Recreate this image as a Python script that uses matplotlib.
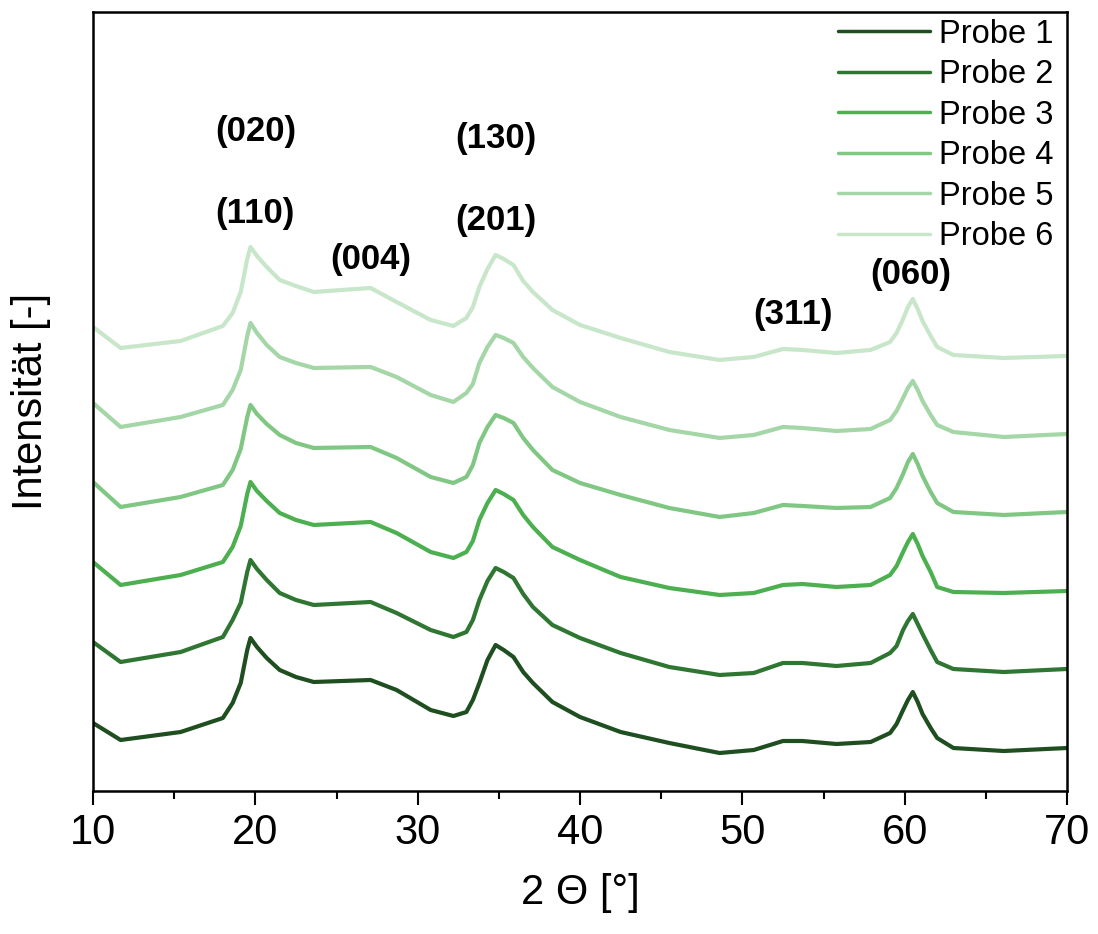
import numpy as np
import matplotlib
matplotlib.use("Agg")
import matplotlib.pyplot as plt

plt.rcParams['font.family'] = ['Liberation Sans', 'DejaVu Sans']

# 2 theta sampling points
two_theta = [10.0, 11.7, 15.4, 18.0, 18.6, 19.1, 19.5, 19.7, 20.1, 20.7, 21.5, 22.5,
             23.6, 27.1, 28.7, 30.8, 32.2, 33.0, 33.4, 33.8, 34.3, 34.8, 35.3, 35.9,
             36.5, 37.1, 38.3, 40.0, 42.5, 45.5, 48.6, 50.7, 52.5, 53.7, 55.8, 57.9,
             59.1, 59.5, 59.9, 60.2, 60.5, 60.8, 61.1, 61.6, 62.0, 63.0, 66.1, 70.0]

# intensities (arbitrary units, curves already stacked)
probe1 = [68, 51, 59, 73, 88, 108, 141, 153, 144, 133, 121, 114,
          109, 111, 101, 81, 75, 79, 91, 108, 131, 146, 141, 134,
          119, 108, 89, 74, 59, 48, 38, 41, 50, 50, 47, 49,
          58, 67, 81, 91, 99, 89, 77, 63, 53, 43, 40, 43]
probe2 = [149, 129, 139, 154, 171, 188, 219, 231, 222, 211, 198, 191,
          186, 189, 178, 161, 154, 159, 171, 191, 210, 223, 219, 213,
          197, 184, 166, 153, 138, 124, 116, 118, 128, 128, 125, 128,
          138, 145, 161, 170, 177, 167, 157, 141, 129, 122, 119, 122]
probe3 = [229, 206, 216, 229, 244, 265, 297, 309, 300, 290, 278, 271,
          266, 269, 258, 239, 233, 239, 250, 271, 288, 301, 297, 291,
          276, 264, 244, 231, 214, 203, 196, 198, 206, 207, 204, 206,
          216, 225, 239, 249, 257, 247, 235, 219, 204, 199, 198, 200]
probe4 = [309, 284, 294, 306, 321, 342, 374, 386, 377, 367, 356, 348,
          343, 344, 333, 314, 308, 314, 326, 348, 364, 376, 373, 368,
          353, 341, 321, 308, 296, 283, 274, 278, 286, 285, 283, 284,
          293, 303, 317, 329, 337, 327, 315, 299, 288, 279, 276, 279]
probe5 = [388, 364, 374, 386, 401, 421, 455, 468, 458, 446, 434, 428,
          423, 424, 414, 396, 389, 398, 407, 428, 444, 456, 453, 448,
          434, 423, 404, 389, 374, 361, 353, 356, 364, 363, 360, 362,
          371, 380, 393, 403, 410, 401, 390, 376, 366, 359, 354, 357]
probe6 = [464, 443, 450, 465, 478, 499, 532, 544, 535, 524, 511, 505,
          499, 503, 489, 471, 465, 473, 484, 504, 522, 536, 532, 526,
          510, 499, 481, 466, 453, 439, 431, 434, 442, 441, 438, 441,
          449, 458, 472, 484, 492, 482, 470, 455, 444, 436, 433, 435]

labels = ["Probe 1", "Probe 2", "Probe 3", "Probe 4", "Probe 5", "Probe 6"]
colors = ["#1f4f20", "#2e7631", "#4caf50", "#81c784", "#a5d6a7", "#c8e6c9"]

# reflections: label, 2theta, height
peak_labels = ["(020)", "(110)", "(004)", "(130)", "(201)", "(311)", "(060)"]
peak_x = [20.0, 20.0, 27.1, 34.8, 34.8, 53.1, 60.4]
peak_y = [659, 577, 531, 652, 570, 476, 516]

fig = plt.figure(figsize=(10.98, 9.34), dpi=100)
ax = fig.add_axes([0.0847, 0.1531, 0.8871, 0.8341])

for y, lab, c in zip([probe1, probe2, probe3, probe4, probe5, probe6], labels, colors):
    ax.plot(two_theta, y, color=c, lw=3.0, label=lab,
            solid_joinstyle="round", solid_capstyle="round")

for t, xx, yy in zip(peak_labels, peak_x, peak_y):
    ax.text(xx, yy, t, ha="center", va="center", fontsize=25, fontweight="bold")

ax.set_xlim(10, 70)
ax.set_ylim(0, 779)
ax.set_xticks(np.arange(10, 71, 10))
ax.set_xticks(np.arange(15, 70, 10), minor=True)
ax.set_yticks([])
ax.tick_params(axis="x", which="major", length=10, width=1.5, labelsize=30, pad=6)
ax.tick_params(axis="x", which="minor", length=6, width=1.5)
for s in ax.spines.values():
    s.set_linewidth(1.8)

ax.set_xlabel("2 Θ [°]", fontsize=30, labelpad=14)
ax.set_ylabel("Intensität [-]", fontsize=30, labelpad=30)

leg = ax.legend(loc="upper right", frameon=False, fontsize=23.5, handlelength=2.8,
                handletextpad=0.3, labelspacing=0.29, borderaxespad=0.0,
                bbox_to_anchor=(1.0, 1.008))
for h in leg.get_lines():
    h.set_linewidth(2.5)

fig.savefig("out.png", dpi=100)
